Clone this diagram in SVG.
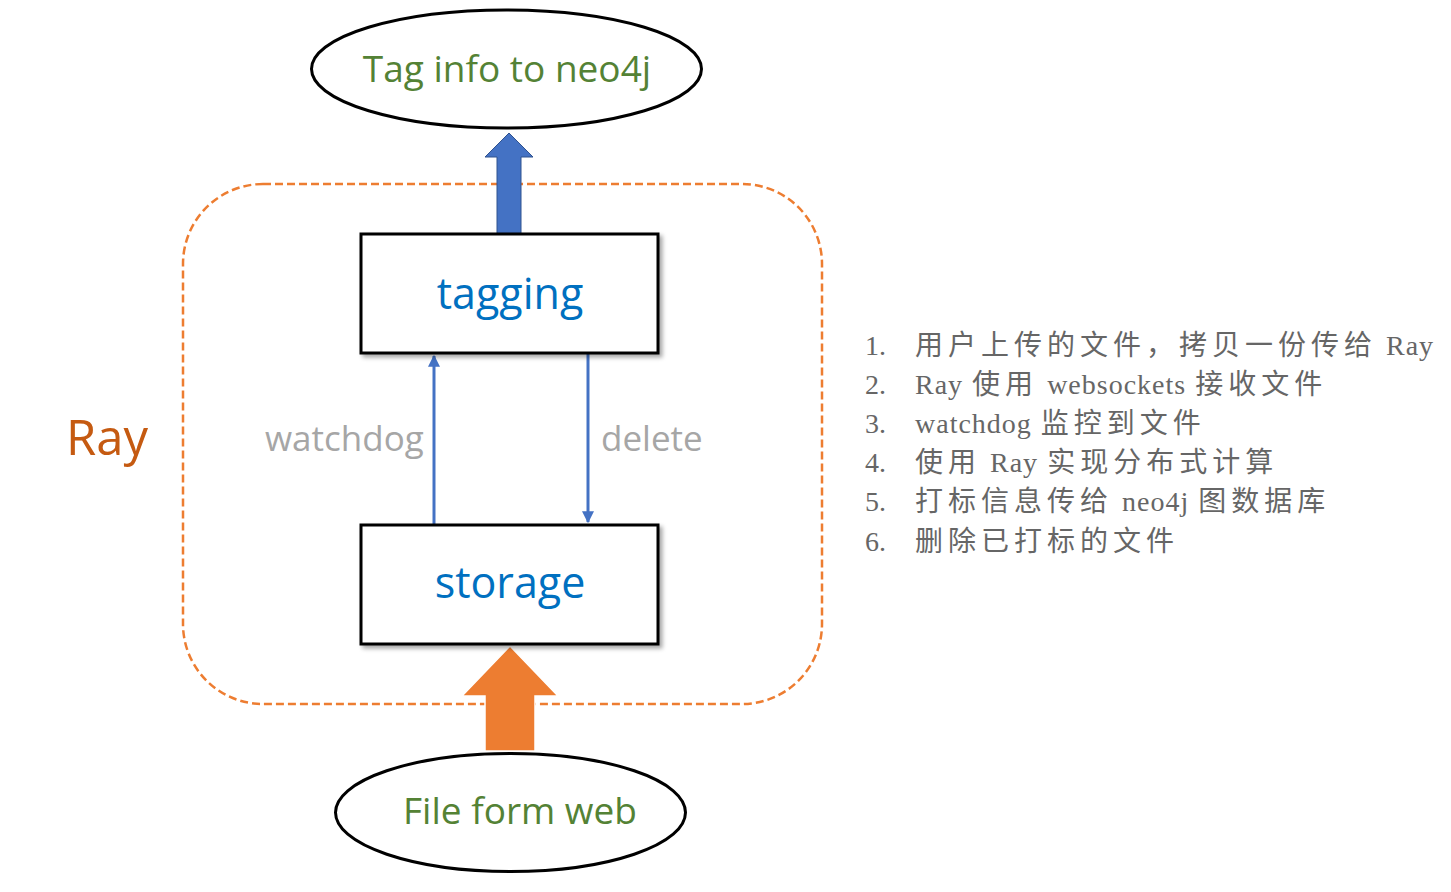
<svg xmlns="http://www.w3.org/2000/svg" width="1451" height="892" viewBox="0 0 1451 892">
<defs>
<style>
.hand{font-family:"Open Sans","DejaVu Sans",sans-serif;}
.node{fill:#fff;stroke:#000;stroke-width:3;}
.lbl{font-size:37px;fill:#548235;text-anchor:middle;}
.box{font-size:43px;fill:#0070C0;text-anchor:middle;}
.edge{font-size:35px;fill:#A6A6A6;}
.conn{stroke:#4472C4;stroke-width:3;fill:none;}
.list{font-family:"Liberation Serif","Noto Sans CJK SC",serif;font-size:28px;fill:#666666;}
.lat{letter-spacing:1px;word-spacing:1px;}
.cj{letter-spacing:5px;}
</style>
<filter id="sh" x="-10%" y="-10%" width="130%" height="130%">
<feDropShadow dx="3" dy="3" stdDeviation="2" flood-color="#000" flood-opacity="0.35"/>
</filter>
<marker id="ah" viewBox="0 0 10 10" refX="9" refY="5" markerWidth="4" markerHeight="4" orient="auto">
<path d="M0,0 L10,5 L0,10 z" fill="#4472C4"/>
</marker>
</defs>
<rect width="1451" height="892" fill="#fff"/>

<g id="ray-boundary">
<rect x="183" y="184" width="639" height="520" rx="80" ry="80" fill="none" stroke="#ED7D31" stroke-width="2.5" stroke-dasharray="8,4"/>
<text class="hand" x="66" y="455" font-size="49" fill="#C55A11">Ray</text>
</g>

<g id="connectors">
<polygon points="509,133 533,157 521,157 521,234 497,234 497,157 485,157" fill="#4472C4" stroke="#2F528F" stroke-width="1"/>
<polygon points="510,646 558,696 535,696 535,751 485,751 485,696 462,696" fill="#ED7D31" stroke="#fff" stroke-width="1.5"/>
<line class="conn" x1="434" y1="524" x2="434" y2="356" marker-end="url(#ah)"/>
<line class="conn" x1="588" y1="354" x2="588" y2="522" marker-end="url(#ah)"/>
<text class="hand edge" x="265" y="451">watchdog</text>
<text class="hand edge" x="601" y="451">delete</text>
</g>

<g id="tag-info">
<ellipse class="node" cx="506.5" cy="69" rx="195" ry="59"/>
<text class="hand lbl" x="507" y="82">Tag info to neo4j</text>
</g>

<g id="tagging">
<rect class="node" x="361" y="234" width="297" height="119" filter="url(#sh)"/>
<text class="hand box" x="510" y="309">tagging</text>
</g>

<g id="storage">
<rect class="node" x="361" y="525" width="297" height="119" filter="url(#sh)"/>
<text class="hand box" x="510" y="598">storage</text>
</g>

<g id="file-web">
<ellipse class="node" cx="510.5" cy="812.5" rx="175" ry="59"/>
<text class="hand lbl" x="520" y="824">File form web</text>
</g>

<g id="steps">
<text class="list" x="865" y="355">1.</text><text class="list" x="915" y="355"><tspan class="cj">用户上传的文件，拷贝一份传给</tspan><tspan class="lat"> Ray</tspan></text>
<text class="list" x="865" y="394">2.</text><text class="list" x="915" y="394"><tspan class="lat">Ray </tspan><tspan class="cj">使用</tspan><tspan class="lat"> websockets </tspan><tspan class="cj">接收文件</tspan></text>
<text class="list" x="865" y="433">3.</text><text class="list" x="915" y="433"><tspan class="lat">watchdog </tspan><tspan class="cj">监控到文件</tspan></text>
<text class="list" x="865" y="472">4.</text><text class="list" x="915" y="472"><tspan class="cj">使用</tspan><tspan class="lat"> Ray </tspan><tspan class="cj">实现分布式计算</tspan></text>
<text class="list" x="865" y="511">5.</text><text class="list" x="915" y="511"><tspan class="cj">打标信息传给</tspan><tspan class="lat"> neo4j </tspan><tspan class="cj">图数据库</tspan></text>
<text class="list" x="865" y="551">6.</text><text class="list" x="915" y="551"><tspan class="cj">删除已打标的文件</tspan></text>
</g>
</svg>
